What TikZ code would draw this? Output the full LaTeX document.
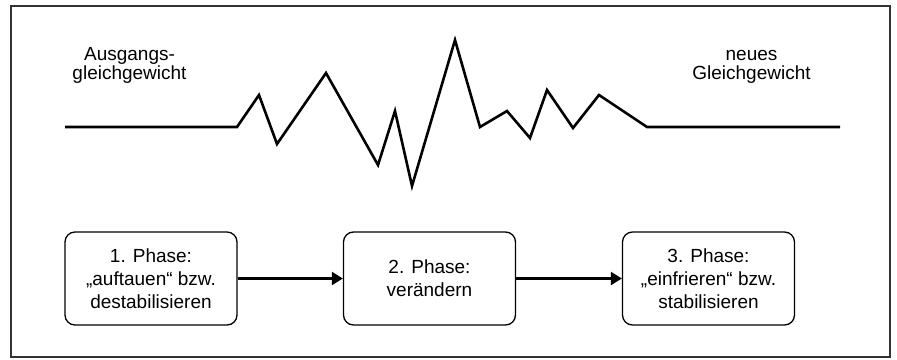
\documentclass[tikz,border=0pt]{standalone}
\usepackage{fontspec}
\setmainfont{Liberation Sans}
\usetikzlibrary{arrows.meta}
\begin{document}
\begin{tikzpicture}[x=1pt,y=-1pt,
  every node/.style={font=\fontsize{19}{23}\selectfont, align=center, inner sep=0pt},
  tag/.style={font=\fontsize{19}{19}\selectfont},
  phasebox/.style={draw=black, line width=1.3pt, rounded corners=10pt,
    minimum width=172pt, minimum height=93pt},
  curve/.style={line width=2.6pt, line join=miter, miter limit=10},
  flow/.style={line width=2.2pt, -{Triangle[length=11pt,width=13pt]}}
]
\useasboundingbox (0,0) rectangle (897,359);
% outer frame
\draw[black!80, line width=1.8pt] (10.8,5.8) rectangle (890.2,356.6);

% labels above the curve
\node[tag] (start) at (129.5,65.5) {Ausgangs-\\gleichgewicht};
\node[tag] (goal)  at (751.5,67.3) {neues\\Gleichgewicht};

% disturbed equilibrium curve
\draw[curve] (65,127) -- (237,127) -- (259,95) -- (277,144) -- (326,73)
  -- (378,165) -- (395,111) -- (412,186) -- (455,40) -- (480,127)
  -- (507,111) -- (530,138) -- (547,90) -- (573,128) -- (599,95)
  -- (647,127) -- (840,127);

% the three phases
\node[phasebox] (p1) at (151,278.5) {1. Phase:\\„auftauen“ bzw.\\destabilisieren};
\node[phasebox] (p2) at (429.5,278.5) {2. Phase:\\verändern};
\node[phasebox] (p3) at (708.5,278.5) {3. Phase:\\„einfrieren“ bzw.\\stabilisieren};

\draw[flow] (p1.east) -- (p2.west);
\draw[flow] (p2.east) -- (p3.west);
\end{tikzpicture}
\end{document}
